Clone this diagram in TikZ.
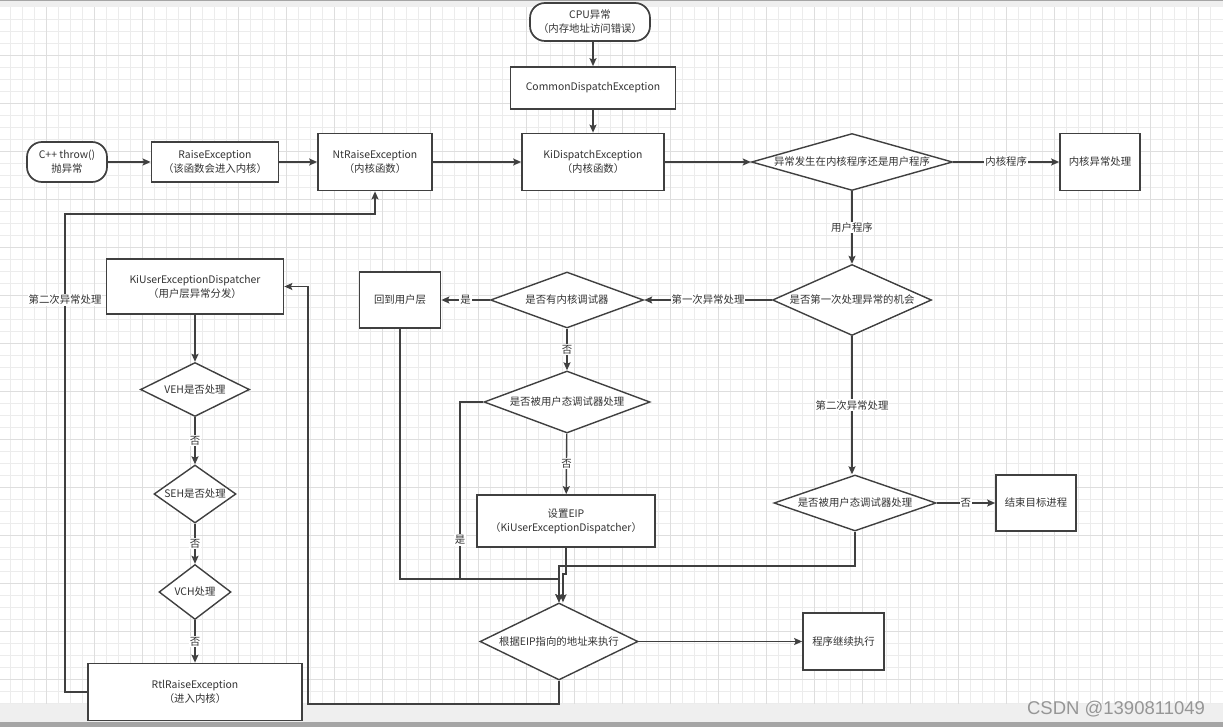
\documentclass[tikz,border=0pt]{standalone}
\usepackage{fontspec}
\setmainfont{Noto Sans CJK SC}
\newfontfamily\markfont{Liberation Sans}
\usetikzlibrary{arrows.meta,shapes.geometric}
\definecolor{inkgray}{RGB}{64,64,64}
\definecolor{textgray}{RGB}{51,51,51}
\definecolor{gridminor}{RGB}{236,236,236}
\definecolor{gridmajor}{RGB}{222,222,222}
\definecolor{barlight}{RGB}{239,239,239}
\definecolor{bardark}{RGB}{165,165,165}
\definecolor{markgray}{RGB}{150,150,150}
\tikzset{
  proc/.style={rectangle,draw=inkgray,fill=white,line width=1.7pt,inner sep=0pt,align=center,text=textgray},
  term/.style={proc,rounded corners=15pt},
  cond/.style={diamond,draw=inkgray,fill=white,line width=1.4pt,inner sep=0pt,align=center,text=textgray},
  arr/.style={-{Stealth[length=8pt,width=7pt,inset=1.5pt]},line width=1.4pt,draw=inkgray},
  lbl/.style={fill=white,inner sep=1pt,text=textgray},
  gridline/.style={draw=gridminor,line width=0.8pt},
  gridbold/.style={draw=gridmajor,line width=0.8pt}
}

\begin{document}
\begin{tikzpicture}[
  x=1pt,y=-1pt,
  font=\fontsize{10.4}{14}\selectfont
]
  \useasboundingbox (0,0) rectangle (1223,727);

  % background grid and bars
  \fill[white] (0,0) rectangle (1223,727);
  \foreach \gx in {10.7,22.7,...,1222}{
    \draw[gridline] (\gx,7) -- (\gx,704);
  }
  \foreach \gy in {19,31,...,703}{
    \draw[gridline] (0,\gy) -- (1223,\gy);
  }
  \foreach \gx in {46.7,94.7,...,1222}{
    \draw[gridbold] (\gx,7) -- (\gx,704);
  }
  \foreach \gy in {55,103,...,703}{
    \draw[gridbold] (0,\gy) -- (1223,\gy);
  }
  \fill[barlight] (0,0) rectangle (1223,7);
  \fill[bardark] (0,0) rectangle (1223,1.5);
  \fill[barlight] (0,704) rectangle (1223,722);
  \fill[bardark] (0,722) rectangle (1223,727);

  % kernel side
  \node[term,minimum width=120pt,minimum height=38pt] (cpu) at (590,22) {CPU异常\\（内存地址访问错误）};
  \node[proc,minimum width=165pt,minimum height=42pt] (common) at (593,88) {CommonDispatchException};
  \node[proc,minimum width=142pt,minimum height=57pt] (kidisp) at (593,162) {KiDispatchException\\（内核函数）};
  \node[proc,minimum width=114pt,minimum height=57pt] (ntraise) at (375,162) {NtRaiseException\\（内核函数）};
  \node[proc,minimum width=127pt,minimum height=40pt] (raise) at (215,162) {RaiseException\\（该函数会进入内核）};
  \node[term,minimum width=80pt,minimum height=40pt] (cpp) at (67,162) {C++ throw()\\抛异常};
  \node[cond,minimum width=201pt,minimum height=57pt,aspect=3.5] (qmode) at (852,162) {异常发生在内核程序还是用户程序};
  \node[proc,minimum width=80pt,minimum height=57pt] (kernel) at (1100,162) {内核异常处理};

  % debugger decisions
  \node[cond,minimum width=159pt,minimum height=71pt,aspect=2.2] (qfirst) at (852,300) {是否第一次处理异常的机会};
  \node[cond,minimum width=153pt,minimum height=56pt,aspect=2.7] (qkdbg) at (567,300) {是否有内核调试器};
  \node[proc,minimum width=81pt,minimum height=56pt] (backuser) at (400,300) {回到用户层};
  \node[cond,minimum width=166pt,minimum height=62pt,aspect=2.7] (qudbg) at (567,402) {是否被用户态调试器处理};
  \node[proc,minimum width=178pt,minimum height=52pt] (seteip) at (566,521) {设置EIP\\（KiUserExceptionDispatcher）};
  \node[cond,minimum width=158pt,minimum height=77pt,aspect=2.05] (qeip) at (559,641.5) {根据EIP指向的地址来执行};
  \node[proc,minimum width=81pt,minimum height=57pt] (cont) at (843.5,641.5) {程序继续执行};
  \node[cond,minimum width=162pt,minimum height=56pt,aspect=2.9] (qudbg2) at (855,503) {是否被用户态调试器处理};
  \node[proc,minimum width=80pt,minimum height=56pt] (kill) at (1036,503) {结束目标进程};

  % user side
  \node[proc,minimum width=177pt,minimum height=55pt] (kiuser) at (195,286.5) {KiUserExceptionDispatcher\\（用户层异常分发）};
  \node[cond,minimum width=109pt,minimum height=54pt,aspect=2] (qveh) at (195,389.5) {VEH是否处理};
  \node[cond,minimum width=82pt,minimum height=58pt,aspect=1.4] (qseh) at (195,494) {SEH是否处理};
  \node[cond,minimum width=72pt,minimum height=55pt,aspect=1.3] (qvch) at (195,592) {VCH处理};
  \node[proc,minimum width=214pt,minimum height=57pt] (rtl) at (195,692) {RtlRaiseException\\（进入内核）};

  \node[font=\markfont\fontsize{18.5}{20}\selectfont,text=markgray] (mark) at (1116,709) {CSDN @1390811049};

  \coordinate (loopL) at (65,214);
  \coordinate (loopB) at (308,704);
  \coordinate (mergeL) at (559,579);
  \coordinate (mergeR) at (559,566);
  \coordinate (jog) at (563,574);
  \coordinate (bendY) at (460,579);

  \draw[arr] (cpp) -- (raise);
  \draw[arr] (raise) -- (ntraise);
  \draw[arr] (ntraise) -- (kidisp);
  \draw[arr] (common.north |- cpu.south) -- (common.north);
  \draw[arr] (common) -- (kidisp);
  \draw[arr] (kidisp) -- (qmode);
  \draw[arr] (qmode) -- node[lbl] {内核程序} (kernel);
  \draw[arr] (qmode) -- node[lbl] {用户程序} (qfirst);
  \draw[arr] (qfirst) -- node[lbl] {第一次异常处理} (qkdbg);
  \draw[arr] (qkdbg) -- node[lbl] {是} (backuser);
  \draw[arr] (qkdbg) -- node[lbl] {否} (qudbg);
  \draw[arr] (qudbg) -- node[lbl] {否} (seteip);
  \draw[arr] (qfirst.south) -- node[lbl] {第二次异常处理} (qfirst.south |- qudbg2.north);
  \draw[arr] (qudbg2) -- node[lbl] {否} (kill);
  \draw[arr] (qeip) -- (cont);

  \draw[arr] (kiuser) -- (qveh);
  \draw[arr] (qveh) -- node[lbl] {否} (qseh);
  \draw[arr] (qseh) -- node[lbl] {否} (qvch);
  \draw[arr] (qvch) -- node[lbl] {否} (rtl);

  \draw[arr] (rtl.west) -| node[lbl,pos=0.91] {第二次异常处理} (loopL) -| (ntraise.south);
  \draw[arr] (qeip.south) |- (loopB) |- (kiuser.east);

  \draw[arr] (backuser.south) |- (mergeL) -- (qeip.north);
  \draw[arr] (qudbg.west) -| node[lbl,pos=0.89] {是} (bendY) -- (mergeL) -- (qeip.north);
  \draw[arr] (qudbg2.south) |- (mergeR) -- (qeip.north);
  \draw[arr] (seteip.south) |- (jog) -- (jog |- qeip.north);
\end{tikzpicture}
\end{document}
